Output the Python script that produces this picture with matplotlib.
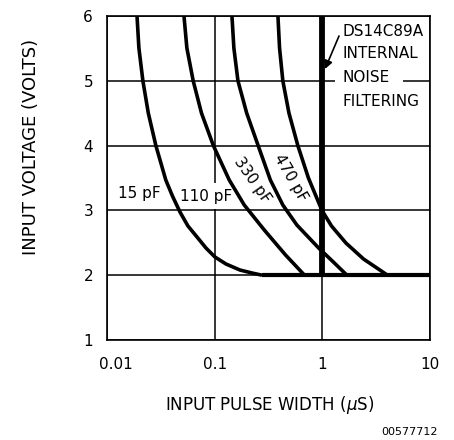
import matplotlib
matplotlib.use("Agg")
import matplotlib.pyplot as plt
from matplotlib.patches import Rectangle
from matplotlib.transforms import ScaledTranslation

plt.rcParams['font.family'] = ['DejaVu Sans']

# Data (pulse width in µs, voltage in V)
v_15 = [6.0, 5.506, 5.0, 4.503, 4.0, 3.469, 3.222, 2.975, 2.759, 2.590, 2.420, 2.281, 2.173, 2.080, 2.034, 2.0]
x_15 = [0.0190, 0.01978, 0.02154, 0.02418, 0.02844, 0.03516, 0.04055, 0.04763, 0.0565, 0.0685, 0.0830, 0.1006, 0.1273, 0.1717, 0.222, 0.275]

v_110 = [6.0, 5.506, 5.0, 4.503, 4.0, 3.469, 3.083, 2.698, 2.312, 2.0]
x_110 = [0.05188, 0.05518, 0.06317, 0.07539, 0.09725, 0.1366, 0.1883, 0.2888, 0.4552, 0.6834]

v_330 = [6.0, 5.506, 5.0, 4.503, 4.0, 3.469, 3.083, 2.775, 2.420, 2.204, 2.0]
x_330 = [0.1447, 0.1508, 0.1645, 0.1982, 0.2534, 0.3291, 0.4297, 0.5798, 0.9238, 1.265, 1.692]

v_470 = [6.0, 5.506, 5.0, 4.503, 4.0, 3.5, 3.0, 2.759, 2.497, 2.250, 2.0]
x_470 = [0.387, 0.4005, 0.4297, 0.4896, 0.5922, 0.7428, 0.9915, 1.217, 1.656, 2.413, 4.031]

filter_x = [1.0, 1.0]
filter_v = [2.0, 6.0]
floor_x = [0.275, 10.0]
floor_v = [2.0, 2.0]

x_ticks = [0.01, 0.1, 1, 10]
x_tick_labels = ["0.01", "0.1", "1", "10"]
y_ticks = [1, 2, 3, 4, 5, 6]

W, H = 454, 440
fig = plt.figure(figsize=(W / 100, H / 100), dpi=100)
ax = fig.add_axes([107 / W, 1 - 340 / H, 323 / W, 324 / H])

ax.set_xscale('log')
ax.set_xlim(0.01, 10)
ax.set_ylim(1, 6)
ax.set_xticks(x_ticks)
ax.set_xticklabels(x_tick_labels)
ax.set_yticks(y_ticks)
ax.minorticks_off()
ax.tick_params(axis='both', length=0, labelsize=11)
ax.tick_params(axis='x', pad=12)
ax.tick_params(axis='y', pad=10)
xl = ax.get_xticklabels()
xl[0].set_transform(xl[0].get_transform() + ScaledTranslation(9 / 100, 0, fig.dpi_scale_trans))
for s in ax.spines.values():
    s.set_linewidth(1.2)
ax.grid(True, color='black', linewidth=1.1, zorder=1)
ax.set_axisbelow(True)

lw = 2.6
for xs, vs in [(x_15, v_15), (x_110, v_110), (x_330, v_330), (x_470, v_470)]:
    ax.plot(xs, vs, color='black', linewidth=lw, zorder=4, solid_capstyle='butt',
            solid_joinstyle='round')
ax.plot(floor_x, floor_v, color='black', linewidth=3.0, zorder=4, solid_capstyle='butt')
ax.plot(filter_x, filter_v, color='black', linewidth=4.2, zorder=5, solid_capstyle='butt')

def px(xp, yp):
    return (xp / W, 1 - yp / H)

ft = fig.transFigure
tfont = dict(fontsize=11, color='black')
ax.text(*px(139, 193), "15 pF", ha='center', va='center', zorder=3, transform=ft, **tfont)
ax.text(*px(206, 196), "110 pF", ha='center', va='center', zorder=3, transform=ft,
        bbox=dict(facecolor='white', edgecolor='none', pad=4), **tfont)
ax.text(*px(252, 180), "330 pF", ha='center', va='center', rotation=-55,
        rotation_mode='anchor', zorder=3, transform=ft, **tfont)
ax.text(*px(291, 178), "470 pF", ha='center', va='center', rotation=-60,
        rotation_mode='anchor', zorder=3, transform=ft, **tfont)

# gap in the 5 V grid line behind "NOISE"
ax.add_patch(Rectangle(px(335, 87), 68 / W, 12 / H, transform=ft,
                       facecolor='white', edgecolor='none', zorder=2))
ax.text(*px(343, 32), "DS14C89A", ha='left', va='center', transform=ft, zorder=3, **tfont)
ax.text(*px(343, 54), "INTERNAL", ha='left', va='center', transform=ft, zorder=3, **tfont)
ax.text(*px(343, 77), "NOISE", ha='left', va='center', transform=ft, zorder=3, **tfont)
ax.text(*px(343, 101), "FILTERING", ha='left', va='center', transform=ft, zorder=3, **tfont)

ax.annotate("", xy=px(325, 69), xycoords='figure fraction',
            xytext=px(339, 36), textcoords='figure fraction',
            arrowprops=dict(arrowstyle='-|>', color='black', lw=1.2,
                            mutation_scale=12, shrinkA=0, shrinkB=0),
            zorder=6)

fig.text(*px(270, 405), "INPUT PULSE WIDTH ($\\mu$S)", ha='center', va='center', fontsize=12)
fig.text(*px(31, 147), "INPUT VOLTAGE (VOLTS)", ha='center', va='center', rotation=90, fontsize=13)
fig.text(*px(438, 432), "00577712", ha='right', va='center', fontsize=8)

fig.savefig("out.png", dpi=100)
